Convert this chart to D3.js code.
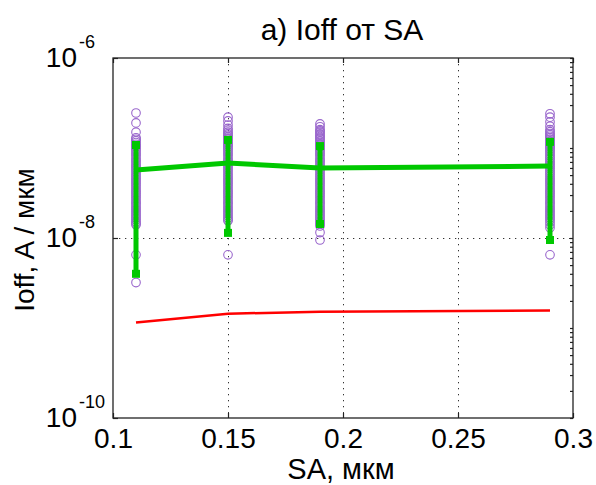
<!DOCTYPE html>
<html>
<head>
<meta charset="utf-8">
<script src="https://cdn.jsdelivr.net/npm/d3@7"></script>
<style>
  html, body { margin: 0; padding: 0; background: #fff; }
  svg { display: block; font-family: "Liberation Sans", Arial, Helvetica, sans-serif; }
</style>
</head>
<body>
<svg id="chart" width="596" height="485"></svg>
<script>
// ---------- data ----------
const titleText = "a) Ioff от SA";
const xLabel = "SA, мкм";
const yLabel = "Ioff, A / мкм";

const xTicks = [0.1, 0.15, 0.2, 0.25, 0.3];
const xTickLabels = ["0.1", "0.15", "0.2", "0.25", "0.3"];
const yTicks = [1e-10, 1e-8, 1e-6];
const yTickExponents = ["-10", "-8", "-6"];

const sa = [0.11, 0.15, 0.19, 0.29];
const ioffMean = [5.7e-8, 6.8e-8, 6.0e-8, 6.3e-8];
const ioffMax = [1.08e-7, 1.23e-7, 1.05e-7, 1.17e-7];
const ioffMin = [4.0e-9, 1.14e-8, 1.43e-8, 9.5e-9];
const ioffModel = [1.15e-9, 1.44e-9, 1.52e-9, 1.56e-9];

const samples011 = [2.45e-7, 1.9e-7, 1.5e-7, 1.3e-7, 1.25e-7, 1.2e-7, 1.15e-7, 1.1e-7, 1.06e-7, 1.03e-7,
  9.9e-8, 9.5e-8, 9.0e-8, 8.6e-8, 8.2e-8, 7.7e-8, 7.3e-8, 7.0e-8, 6.6e-8, 6.3e-8, 6.0e-8, 5.7e-8,
  5.4e-8, 5.1e-8, 4.85e-8, 4.6e-8, 4.4e-8, 4.2e-8, 4.0e-8, 3.8e-8, 3.6e-8, 3.4e-8, 3.25e-8, 3.1e-8,
  2.95e-8, 2.8e-8, 2.65e-8, 2.5e-8, 2.4e-8, 2.27e-8, 2.15e-8, 2.05e-8, 1.95e-8, 1.85e-8, 1.76e-8,
  1.67e-8, 1.59e-8, 1.51e-8, 1.45e-8, 1.4e-8, 6.5e-9, 3.2e-9];
const samples015 = [2.2e-7, 2.0e-7, 1.8e-7, 1.65e-7, 1.57e-7, 1.5e-7, 1.44e-7, 1.39e-7, 1.34e-7, 1.29e-7,
  1.25e-7, 1.2e-7, 1.15e-7, 1.11e-7, 1.07e-7, 1.03e-7, 9.9e-8, 9.5e-8, 9.0e-8, 8.6e-8, 8.2e-8, 7.7e-8,
  7.3e-8, 7.0e-8, 6.6e-8, 6.3e-8, 6.0e-8, 5.7e-8, 5.4e-8, 5.1e-8, 4.85e-8, 4.6e-8, 4.4e-8, 4.2e-8,
  4.0e-8, 3.8e-8, 3.6e-8, 3.4e-8, 3.25e-8, 3.1e-8, 2.95e-8, 2.8e-8, 2.65e-8, 2.5e-8, 2.4e-8, 2.27e-8,
  2.15e-8, 2.05e-8, 1.95e-8, 1.85e-8, 1.76e-8, 1.67e-8, 1.6e-8, 1.55e-8, 6.5e-9];
const samples019 = [1.85e-7, 1.72e-7, 1.6e-7, 1.55e-7, 1.5e-7, 1.44e-7, 1.39e-7, 1.34e-7, 1.29e-7, 1.25e-7,
  1.2e-7, 1.15e-7, 1.11e-7, 1.07e-7, 1.03e-7, 9.9e-8, 9.5e-8, 9.0e-8, 8.6e-8, 8.2e-8, 7.7e-8, 7.3e-8,
  7.0e-8, 6.6e-8, 6.3e-8, 6.0e-8, 5.7e-8, 5.4e-8, 5.1e-8, 4.85e-8, 4.6e-8, 4.4e-8, 4.2e-8, 4.0e-8,
  3.8e-8, 3.6e-8, 3.4e-8, 3.25e-8, 3.1e-8, 2.95e-8, 2.8e-8, 2.65e-8, 2.5e-8, 2.4e-8, 2.27e-8, 2.15e-8,
  2.05e-8, 1.95e-8, 1.85e-8, 1.76e-8, 1.67e-8, 1.59e-8, 1.51e-8, 1.43e-8, 1.36e-8, 1.15e-8, 9.5e-9];
const samples029 = [2.4e-7, 2.2e-7, 1.95e-7, 1.75e-7, 1.6e-7, 1.52e-7, 1.45e-7, 1.4e-7, 1.35e-7, 1.3e-7,
  1.25e-7, 1.2e-7, 1.15e-7, 1.1e-7, 1.06e-7, 1.02e-7, 9.8e-8, 9.4e-8, 9.0e-8, 8.6e-8, 8.2e-8, 7.8e-8,
  7.5e-8, 7.1e-8, 6.8e-8, 6.5e-8, 6.2e-8, 5.9e-8, 5.6e-8, 5.35e-8, 5.1e-8, 4.85e-8, 4.6e-8, 4.4e-8,
  4.2e-8, 4.0e-8, 3.8e-8, 3.6e-8, 3.4e-8, 3.25e-8, 3.1e-8, 2.95e-8, 2.8e-8, 2.65e-8, 2.5e-8, 2.4e-8,
  2.27e-8, 2.15e-8, 2.05e-8, 1.95e-8, 1.85e-8, 1.76e-8, 1.67e-8, 1.59e-8, 1.5e-8, 1.4e-8, 1.3e-8, 6.5e-9];
const samples = [samples011, samples015, samples019, samples029];

// ---------- layout ----------
const L = 113, R = 573, T = 58, B = 418;
const svg = d3.select("#chart");
const x = d3.scaleLinear().domain([0.1, 0.3]).range([L, R]);
const y = d3.scaleLog().domain([1e-10, 1e-6]).range([B, T]);

const axisColor = "#222";
const purple = "#9966cc";
const green = "#00c800";

// grid
const grid = svg.append("g").attr("stroke", "#333").attr("stroke-width", 1).attr("stroke-dasharray", "1.3,4.7");
grid.selectAll("line.gx").data(xTicks.slice(1, -1)).join("line")
  .attr("x1", d => Math.round(x(d)) + 0.5).attr("x2", d => Math.round(x(d)) + 0.5)
  .attr("y1", T).attr("y2", B);
grid.selectAll("line.gy").data(yTicks.slice(1, -1)).join("line")
  .attr("y1", d => Math.round(y(d)) + 0.5).attr("y2", d => Math.round(y(d)) + 0.5)
  .attr("x1", L).attr("x2", R);

// sample circles
const pts = [];
samples.forEach((arr, i) => arr.forEach(v => pts.push({ x: sa[i], v })));
svg.append("g").selectAll("circle").data(pts).join("circle")
  .attr("cx", d => x(d.x)).attr("cy", d => y(d.v)).attr("r", 4.3)
  .attr("fill", "none").attr("stroke", purple).attr("stroke-width", 1.1);

// red model line
svg.append("path").datum(sa.map((s, i) => [s, ioffModel[i]]))
  .attr("d", d3.line().x(d => x(d[0])).y(d => y(d[1])))
  .attr("fill", "none").attr("stroke", "#ff0000").attr("stroke-width", 2.5);

// green mean line
svg.append("path").datum(sa.map((s, i) => [s, ioffMean[i]]))
  .attr("d", d3.line().x(d => x(d[0])).y(d => y(d[1])))
  .attr("fill", "none").attr("stroke", green).attr("stroke-width", 5);

// error bars
const eb = svg.append("g");
eb.selectAll("line").data(sa).join("line")
  .attr("x1", d => x(d)).attr("x2", d => x(d))
  .attr("y1", (d, i) => y(ioffMax[i])).attr("y2", (d, i) => y(ioffMin[i]))
  .attr("stroke", green).attr("stroke-width", 5);
const caps = [];
sa.forEach((s, i) => { caps.push([s, ioffMax[i]]); caps.push([s, ioffMin[i]]); });
eb.selectAll("rect").data(caps).join("rect")
  .attr("x", d => x(d[0]) - 4).attr("y", d => y(d[1]) - 4)
  .attr("width", 8).attr("height", 8).attr("fill", green);

// axes
function styleAxis(g) {
  g.select(".domain").remove();
  g.selectAll(".tick line").attr("stroke", axisColor).attr("stroke-width", 1.2);
}
svg.append("g").attr("transform", `translate(0,${B})`)
  .call(d3.axisBottom(x).tickValues(xTicks).tickSize(-5).tickFormat((d, i) => xTickLabels[i]))
  .call(styleAxis)
  .call(g => g.selectAll(".tick text").attr("y", 30).attr("dy", 0)
    .attr("font-size", 28).attr("fill", "#000").attr("font-family", "Liberation Sans, Arial, sans-serif"));
svg.append("g").attr("transform", `translate(0,${T})`)
  .call(d3.axisTop(x).tickValues(xTicks).tickSize(-5).tickFormat(""))
  .call(styleAxis);
svg.append("g").attr("transform", `translate(${L},0)`)
  .call(d3.axisLeft(y).tickValues(yTicks).tickSize(-5).tickFormat(""))
  .call(styleAxis);
const minor = [];
[-10, -9, -8, -7].forEach(k => { for (let m = 1; m <= 9; m++) minor.push(m * Math.pow(10, k)); });
minor.push(1e-6);
svg.append("g").attr("transform", `translate(${R},0)`)
  .call(d3.axisRight(y).tickValues(minor).tickSize(-3))
  .call(g => g.selectAll(".tick text").remove())
  .call(styleAxis);

// y tick labels 10^k
const yl = svg.append("g").attr("fill", "#000");
yTicks.forEach((t, i) => {
  const ty = y(t);
  yl.append("text").attr("x", L - 36).attr("y", ty + 9).attr("text-anchor", "end")
    .attr("font-size", 28).text("10");
  yl.append("text").attr("x", L - 34).attr("y", ty - 10).attr("text-anchor", "start")
    .attr("font-size", 18).text(yTickExponents[i]);
});

// box
svg.append("rect").attr("x", L).attr("y", T).attr("width", R - L).attr("height", B - T)
  .attr("fill", "none").attr("stroke", axisColor).attr("stroke-width", 1.3);

// texts
svg.append("text").attr("x", 342).attr("y", 40).attr("text-anchor", "middle")
  .attr("font-size", 30).text(titleText);
svg.append("text").attr("x", 341).attr("y", 479).attr("text-anchor", "middle")
  .attr("font-size", 29).text(xLabel);
svg.append("text").attr("transform", "translate(34,240) rotate(-90)").attr("text-anchor", "middle")
  .attr("font-size", 28).text(yLabel);
</script>
</body>
</html>
